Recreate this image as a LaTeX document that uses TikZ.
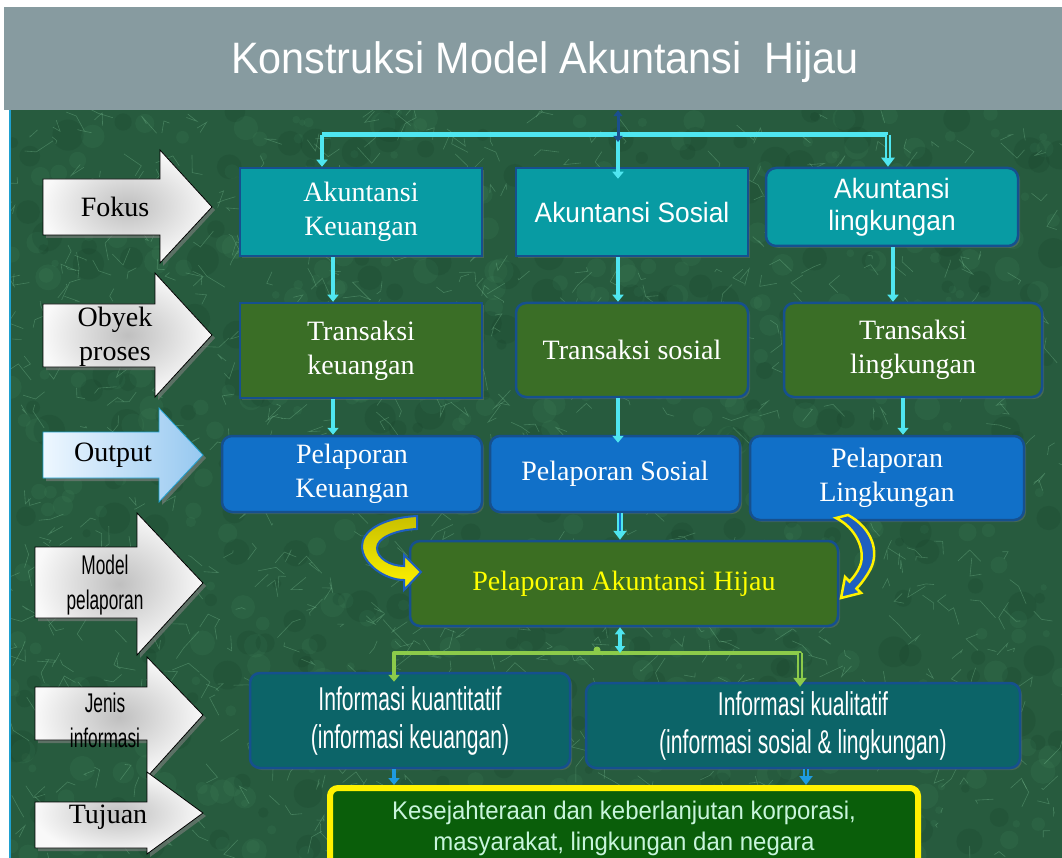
\documentclass[tikz,border=0pt]{standalone}
\usepackage{fontspec}
\setmainfont{Liberation Serif}
\newfontfamily\serf{Liberation Serif}
\newfontfamily\arn[FakeStretch=0.94]{Liberation Sans}
\newfontfamily\agency[FakeStretch=0.64]{Liberation Sans}
\usetikzlibrary{arrows.meta,shadows,calc}
\definecolor{titlec}{HTML}{879BA0}
\definecolor{bgg}{HTML}{275B3E}
\definecolor{streakc}{HTML}{8CD4A5}
\definecolor{blobl}{HTML}{4A9466}
\definecolor{blobd}{HTML}{0E3320}
\definecolor{bordc}{HTML}{16508E}
\definecolor{tealc}{HTML}{089BA3}
\definecolor{grnc}{HTML}{3A6E26}
\definecolor{bluec}{HTML}{1170C8}
\definecolor{pahc}{HTML}{3B6E22}
\definecolor{infoc}{HTML}{0C6468}
\definecolor{ksc}{HTML}{0A5E0A}
\definecolor{mint}{HTML}{C8F5DC}
\definecolor{cyanc}{HTML}{4FE6F0}
\definecolor{lgreen}{HTML}{8CCB4A}
\definecolor{dblue}{HTML}{1A4F8F}
\definecolor{arrblue}{HTML}{1E9BE0}
\definecolor{yel}{HTML}{FFF200}
\definecolor{olivey}{HTML}{C8C000}
\definecolor{pahtext}{HTML}{FFFF00}
\definecolor{outl}{HTML}{EEF7FF}
\definecolor{outr}{HTML}{96C8F0}
\definecolor{edgec}{HTML}{1EA0D0}
\definecolor{curvblue}{HTML}{1E5FC0}
\newcommand\hollowarr[4]{%
  \draw[draw=#1, line width=6pt, -{Triangle[width=13pt,length=9pt]}] #3 -- #4;
  \draw[draw=#2, line width=2pt, shorten >=9pt] #3 -- #4;}
\begin{document}
\begin{tikzpicture}[x=1pt,y=-1pt,
  agnode/.style={font=\agency\fontsize{27}{35}\selectfont},
  bx/.style={draw=bordc, line width=2.5pt, text=white, align=center, inner sep=0pt,
    drop shadow={opacity=0.35, shadow xshift=2pt, shadow yshift=-2pt}},
  rbx/.style={bx, rounded corners=10pt},
  sfont/.style={font=\serf\fontsize{28}{34}\selectfont},
  afont/.style={font=\arn\fontsize{28}{32}\selectfont},
  gfont/.style={font=\agency\fontsize{33}{38}\selectfont},
  garrow/.style={draw=black, line width=0.8pt, inner color=gray!50, outer color=gray!5,
    drop shadow={opacity=0.6, shadow xshift=3pt, shadow yshift=-3pt}},
  oarrow/.style={draw=edgec, line width=0.8pt, left color=outl, right color=outr,
    drop shadow={opacity=0.6, shadow xshift=3pt, shadow yshift=-3pt}},
  cyanarrow/.style={draw=cyanc, line width=4pt, -{Triangle[width=11pt,length=7pt]}},
  cyanline/.style={draw=cyanc, line width=5pt},
  greenarrow/.style={draw=lgreen, line width=4pt, -{Triangle[width=11pt,length=7pt]}},
  bluearrow/.style={draw=arrblue, line width=4pt, -{Triangle[width=11pt,length=7pt]}},
  streak/.style={draw=streakc, line width=0.6pt, opacity=0.3}
]
\useasboundingbox (0,0) rectangle (1062,858);
\clip (0,0) rectangle (1062,858);
\fill[white] (0,0) rectangle (1062,858);
% textured background
\begin{scope}
\clip (9,110) rectangle (1062,858);
\fill[bgg] (9,110) rectangle (1062,858);
\pgfmathsetseed{5}
\foreach \i in {1,...,500}{
  \pgfmathsetmacro\xa{9+rnd*1053}
  \pgfmathsetmacro\ya{110+rnd*748}
  \pgfmathsetmacro\ra{3+rnd*10}
  \fill[blobl, opacity=0.13] (\xa,\ya) circle[radius=\ra pt];
}
\foreach \i in {1,...,300}{
  \pgfmathsetmacro\xa{9+rnd*1053}
  \pgfmathsetmacro\ya{110+rnd*748}
  \pgfmathsetmacro\ra{4+rnd*12}
  \fill[blobd, opacity=0.14] (\xa,\ya) circle[radius=\ra pt];
}
\foreach \i in {1,...,900}{
  \pgfmathsetmacro\xa{9+rnd*1053}
  \pgfmathsetmacro\ya{110+rnd*748}
  \pgfmathsetmacro\dx{rand*18}
  \pgfmathsetmacro\dy{rand*18}
  \pgfmathsetmacro\ex{rand*12}
  \pgfmathsetmacro\ey{rand*12}
  \draw[streak] (\xa,\ya) -- ++(\dx,\dy) -- ++(\ex,\ey);
}
\end{scope}
\draw[edgec, line width=2pt] (10,110) -- (10,858);
% title bar
\node[fill=titlec, minimum width=1058pt, minimum height=103pt, inner sep=0pt] (titlebar) at (533,58.5) {};
\node[text=white, font=\arn\fontsize{44}{50}\selectfont, inner sep=0pt] (titletext) at (545,62) {Konstruksi Model Akuntansi\ \ Hijau};

% left block arrows
\path[garrow] (43,179) -- (160,179) -- (160,150) -- (212,207) -- (160,263) -- (160,235) -- (43,235) -- cycle;
\path[garrow] (43,304) -- (155,304) -- (155,273) -- (212,335) -- (155,397) -- (155,367) -- (43,367) -- cycle;
\path[oarrow] (43,432) -- (159,432) -- (159,408) -- (203,455) -- (159,502) -- (159,478) -- (43,478) -- cycle;
\path[garrow] (35,547) -- (137,547) -- (137,513) -- (203,583) -- (137,655) -- (137,618) -- (35,618) -- cycle;
\path[garrow] (35,687) -- (147,687) -- (147,657) -- (203,715) -- (147,777) -- (147,740) -- (35,740) -- cycle;
\path[garrow] (35,802) -- (147,802) -- (147,772) -- (203,813) -- (147,854) -- (147,848) -- (35,848) -- cycle;
\node[sfont] (lfokus) at (115,207) {Fokus};
\node[sfont, align=center] (lobyek) at (115,337) {Obyek\\proses};
\node[sfont] (loutput) at (113,455) {Output};
\node[agnode, align=center] (lmodel) at (105,585) {Model\\pelaporan};
\node[agnode, align=center] (ljenis) at (105,720) {Jenis\\informasi};
\node[sfont] (ltujuan) at (108,817) {Tujuan};

% boxes
\node[bx, fill=tealc, minimum width=242pt, minimum height=88pt, sfont] (ak) at (361,212) {Akuntansi\\Keuangan};
\node[bx, fill=tealc, minimum width=232pt, minimum height=88pt, afont] (as) at (632,212) {Akuntansi Sosial};
\node[rbx, fill=tealc, minimum width=252pt, minimum height=78pt, afont] (al) at (892,207) {Akuntansi\\lingkungan};
\node[bx, fill=grnc, minimum width=242pt, minimum height=95pt, sfont] (tk) at (361,350.5) {Transaksi\\keuangan};
\node[rbx, fill=grnc, minimum width=232pt, minimum height=94pt, sfont] (ts) at (632,350) {Transaksi sosial};
\node[rbx, fill=grnc, minimum width=258pt, minimum height=94pt, sfont] (tl) at (913,350) {Transaksi\\lingkungan};
\node[rbx, fill=bluec, minimum width=260pt, minimum height=76pt, sfont] (pk) at (352,474) {Pelaporan\\Keuangan};
\node[rbx, fill=bluec, minimum width=250pt, minimum height=76pt, sfont] (ps) at (615,474) {Pelaporan Sosial};
\node[rbx, fill=bluec, minimum width=274pt, minimum height=84pt, sfont] (pl) at (887,478) {Pelaporan\\Lingkungan};
\node[rbx, fill=pahc, minimum width=428pt, minimum height=85pt, sfont, text=pahtext] (pah) at (624,583.5) {Pelaporan Akuntansi Hijau};
\node[rbx, fill=infoc, minimum width=320pt, minimum height=95pt, gfont] (ik) at (410,720.5) {Informasi kuantitatif\\(informasi keuangan)};
\node[rbx, fill=infoc, minimum width=434pt, minimum height=85pt, gfont] (iq) at (803,725.5) {Informasi kualitatif\\(informasi sosial \& lingkungan)};
\node[draw=yel, line width=6pt, fill=ksc, rounded corners=8pt, minimum width=588pt, minimum height=80pt, inner sep=0pt, align=center, text=mint, font=\arn\fontsize{25.5}{31}\selectfont] (ks) at (624,828) {Kesejahteraan dan keberlanjutan korporasi,\\masyarakat, lingkungan dan negara};

% top connectors
\coordinate (hubL) at (322,135);
\coordinate (hub) at (618,135);
\coordinate (hubR) at (888,135);
\draw[cyanline] (hubL) -- (hubR);
\draw[cyanarrow] (hubL) -- (hubL |- ak.north);
\draw[cyanarrow, shorten >=-12pt] (hub) -- (hub |- as.north);
\hollowarr{cyanc}{bgg}{(hubR)}{(hubR |- al.north)}
\draw[dblue, line width=3pt, {Triangle[width=9pt,length=6pt]}-{Triangle[width=9pt,length=6pt]}] (titlebar.south -| hub) -- ($(hub)+(0,7)$);

% vertical connectors
\coordinate (c1) at (333,0);
\coordinate (c2) at (618,0);
\coordinate (c3) at (893,0);
\coordinate (c4) at (903,0);
\draw[cyanarrow] (c1 |- ak.south) -- (c1 |- tk.north);
\draw[cyanarrow] (c2 |- as.south) -- (c2 |- ts.north);
\draw[cyanarrow] (c3 |- al.south) -- (c3 |- tl.north);
\draw[cyanarrow] (c1 |- tk.south) -- (c1 |- pk.north);
\draw[cyanarrow, shorten >=-8pt] (c2 |- ts.south) -- (c2 |- ps.north);
\draw[cyanarrow] (c4 |- tl.south) -- (c4 |- pl.north);
\coordinate (c5) at (620,0);
\hollowarr{cyanc}{bluec}{(c5 |- ps.south)}{(c5 |- pah.north)}

% curved yellow arrows
\path[draw=curvblue, line width=2pt, top color=olivey, bottom color=yel]
  (417,516) .. controls (380,518) and (362,532) .. (362,546)
  .. controls (362,564) and (385,580) .. (404,580) -- (404,590) -- (421,572) -- (404,555) -- (404,566)
  .. controls (390,566) and (377,558) .. (377,548)
  .. controls (377,538) and (395,530) .. (417,529) -- cycle;
\path[draw=yel, line width=2.5pt, fill=curvblue]
  (848,515) .. controls (872,528) and (880,552) .. (870,570)
  .. controls (865,579) and (860,585) .. (856.5,588.5) -- (861,593) -- (841,598) -- (845,577) -- (849.5,581.5)
  .. controls (853,578) and (857,573) .. (860,566)
  .. controls (866,550) and (856,528) .. (836,518) -- cycle;

% lower connectors
\coordinate (gL) at (394,653);
\coordinate (gR) at (800,653);
\coordinate (gM) at (620,653);
\draw[lgreen, line width=4pt, line cap=round] (gL) -- (gR);
\fill[lgreen] (597,650) circle[radius=3.5pt];
\draw[cyanc, line width=3.5pt, {Triangle[width=10pt,length=7pt]}-{Triangle[width=10pt,length=7pt]}] (gM |- pah.south) -- (gM);
\draw[greenarrow, shorten >=-10pt] (gL) -- (gL |- ik.north);
\hollowarr{lgreen}{bgg}{(gR)}{($(gR |- iq.north)+(0,5)$)}
\coordinate (c6) at (394,0);
\coordinate (c7) at (806,0);
\draw[bluearrow] (c6 |- ik.south) -- (c6 |- ks.north);
\hollowarr{arrblue}{bgg}{(c7 |- iq.south)}{(c7 |- ks.north)}
\end{tikzpicture}
\end{document}
